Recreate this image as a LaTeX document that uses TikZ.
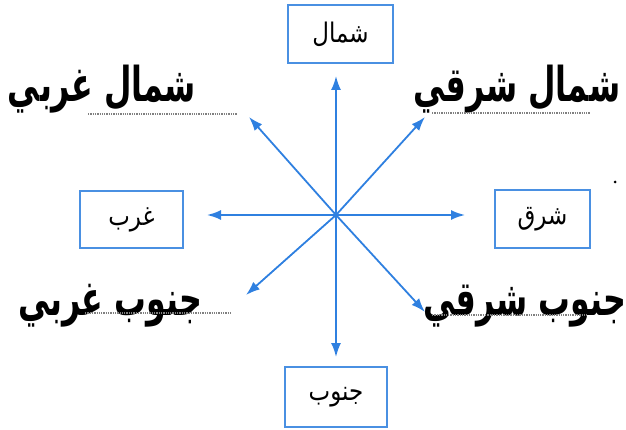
\documentclass[tikz,border=0pt]{standalone}
\usepackage{fontspec}
\usetikzlibrary{arrows.meta}
\TeXXeTstate=1
\newfontfamily\arabicfont[Script=Arabic]{DejaVu Sans}
\definecolor{dirblue}{HTML}{2F80E0}
\definecolor{boxblue}{HTML}{4A90E2}

\begin{document}
\begin{tikzpicture}[x=1pt,y=-1pt]
		\tikzset{> = {Latex[length=14pt,width=10pt]}}
		\tikzset{dirbox/.style = {draw = boxblue, line width = 1.6pt, inner sep = 0pt, font = \arabicfont\fontsize{27}{30}\selectfont}}
		\tikzset{bigword/.style = {inner sep = 0pt, xscale = 0.66, font = \arabicfont\bfseries\fontsize{48}{54}\selectfont}}
		\tikzset{arr/.style = {->, dirblue, line width = 1.8pt}}
		\tikzset{writeline/.style = {gray, densely dotted, line width = 1.3pt}}
		\useasboundingbox (0,0) rectangle (626,430);
		% boxes
		\node[dirbox, minimum width = 105pt, minimum height = 58pt] (N) at (340.5,34) {\scalebox{0.85}[1]{\beginR شمال\endR}};
		\node[dirbox, minimum width = 103pt, minimum height = 57pt] (W) at (131.5,219.5) {\scalebox{0.85}[1]{\beginR غرب\endR}};
		\node[dirbox, minimum width = 95pt, minimum height = 58pt] (E) at (542.5,219) {\scalebox{0.85}[1]{\beginR شرق\endR}};
		\node[dirbox, minimum width = 102pt, minimum height = 60pt] (S) at (336,397) {\scalebox{0.85}[1]{\beginR جنوب\endR}};
		% arrows
		\coordinate (O) at (336,215);
		\coordinate (n) at (336,76);
		\coordinate (s) at (336,357);
		\coordinate (w) at (207,215);
		\coordinate (e) at (465,215);
		\coordinate (ne) at (425,117);
		\coordinate (nw) at (249,117);
		\coordinate (sw) at (246,295);
		\coordinate (se) at (425,312);
		\foreach \t in {n,s,w,e,ne,nw,sw,se}
			\draw[arr] (O) -- (\t);
		% words
		\node[bigword] (NW) at (102,89) {\beginR شمال غربي\endR};
		\node[bigword] (NE) at (517,89) {\beginR شمال شرقي\endR};
		\node[bigword] (SW) at (110,306) {\beginR جنوب غربي\endR};
		\node[bigword] (SE) at (525,306) {\beginR جنوب شرقي\endR};
		% lines to write on
		\draw[writeline] (88,114) -- (237,114);
		\draw[writeline] (432,113) -- (590,113);
		\draw[writeline] (85,313) -- (230,313);
		\draw[writeline] (432,315) -- (587,315);
		\fill (615,182) circle (1.5);
	\end{tikzpicture}
\end{document}
